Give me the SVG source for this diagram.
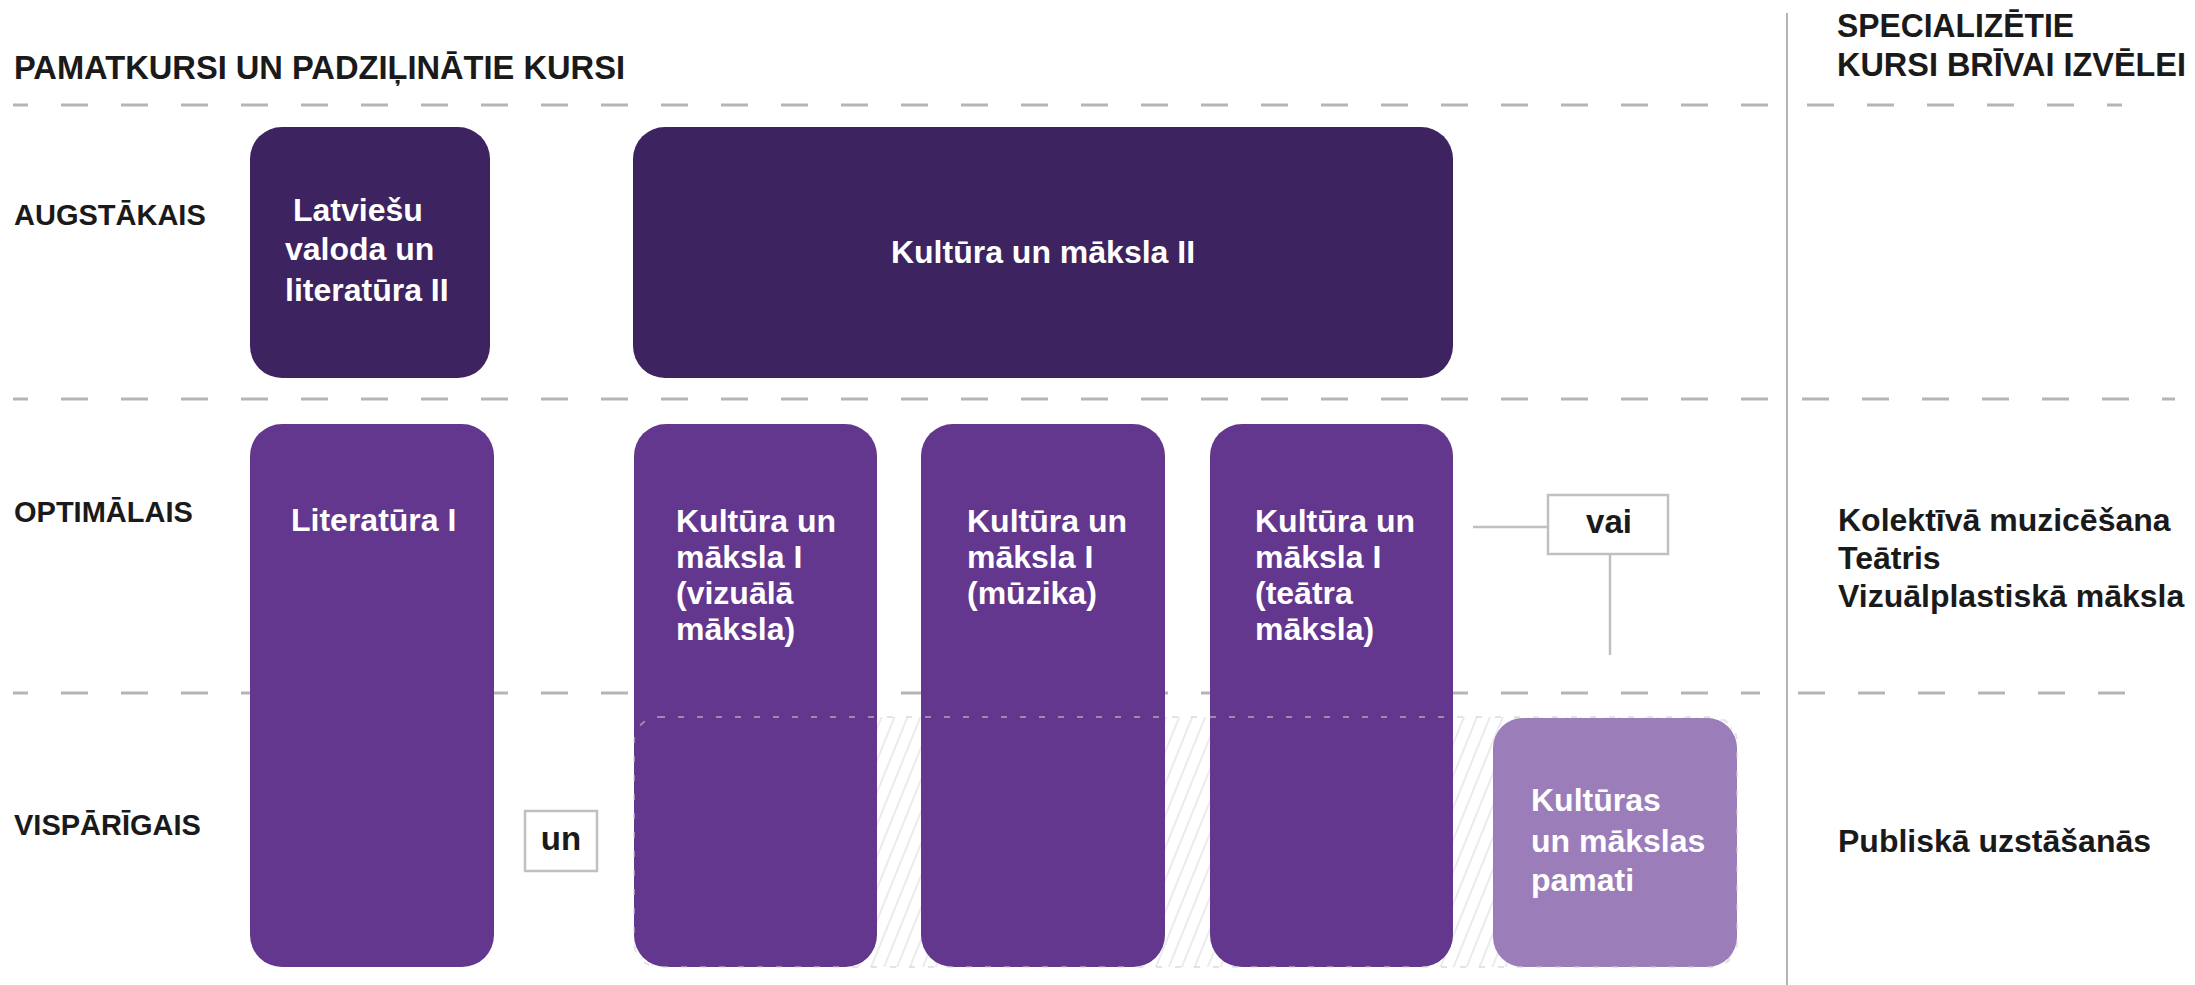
<svg xmlns="http://www.w3.org/2000/svg" width="2195" height="985" viewBox="0 0 2195 985">
<defs>
<style>
.hd{font-family:"Liberation Sans",Arial,sans-serif;font-weight:bold;font-size:33px;fill:#1a1a1a}
.lvl{font-family:"Liberation Sans",Arial,sans-serif;font-weight:bold;font-size:29px;fill:#1a1a1a}
.bx{font-family:"Liberation Sans",Arial,sans-serif;font-weight:bold;font-size:32px;fill:#ffffff}
.rt{font-family:"Liberation Sans",Arial,sans-serif;font-weight:bold;font-size:32px;fill:#1a1a1a}
.op{font-family:"Liberation Sans",Arial,sans-serif;font-weight:bold;font-size:33px;fill:#1a1a1a;text-anchor:middle}
.dash{stroke:#b5b5b5;stroke-width:3;stroke-dasharray:27 33;fill:none}
.dark{fill:#3d2360}
.mid{fill:#64378e}
.light{fill:#9b7db9}
.opbox{fill:#ffffff;stroke:#c0c0c0;stroke-width:2.5}
.conn{stroke:#c0c0c0;stroke-width:2.5;fill:none}
</style>
<pattern id="hatch" width="12" height="12" patternUnits="userSpaceOnUse" patternTransform="rotate(22)">
<line x1="6" y1="0" x2="6" y2="12" stroke="#ebebeb" stroke-width="2"/>
</pattern>
</defs>
<rect width="2195" height="985" fill="#ffffff"/>

<g id="grid">
<line class="dash" x1="13" y1="105" x2="1775" y2="105" stroke-dashoffset="12"/>
<line class="dash" x1="1807" y1="105" x2="2122" y2="105"/>
<line class="dash" x1="13" y1="399" x2="1772" y2="399" stroke-dashoffset="12"/>
<line class="dash" x1="1802" y1="399" x2="2175" y2="399"/>
<line class="dash" x1="13" y1="693" x2="1760" y2="693" stroke-dashoffset="12"/>
<line class="dash" x1="1798" y1="693" x2="2158" y2="693"/>
<line x1="1787" y1="13" x2="1787" y2="985" stroke="#b5b5b5" stroke-width="2"/>
</g>

<g id="headings">
<text class="hd" x="14" y="79" textLength="611" lengthAdjust="spacingAndGlyphs">PAMATKURSI UN PADZIĻINĀTIE KURSI</text>
<text class="hd" x="1837" y="37" textLength="237" lengthAdjust="spacingAndGlyphs">SPECIALIZĒTIE</text>
<text class="hd" x="1837" y="76" textLength="349" lengthAdjust="spacingAndGlyphs">KURSI BRĪVAI IZVĒLEI</text>
</g>

<g id="levels">
<text class="lvl" x="14" y="225">AUGSTĀKAIS</text>
<text class="lvl" x="14" y="522">OPTIMĀLAIS</text>
<text class="lvl" x="14" y="835">VISPĀRĪGAIS</text>
</g>

<g id="hatch-area">
<rect x="634" y="717" width="1103" height="250" rx="25" fill="url(#hatch)"/>
</g>

<g id="latviesu-valoda-2">
<rect class="dark" x="250" y="127" width="240" height="251" rx="32"/>
<text class="bx" x="293" y="221">Latviešu</text>
<text class="bx" x="285" y="260">valoda un</text>
<text class="bx" x="285" y="301">literatūra II</text>
</g>

<g id="kultura-maksla-2">
<rect class="dark" x="633" y="127" width="820" height="251" rx="32"/>
<text class="bx" x="1043" y="263" text-anchor="middle">Kultūra un māksla II</text>
</g>

<g id="literatura-1">
<rect class="mid" x="250" y="424" width="244" height="543" rx="32"/>
<text class="bx" x="291" y="531">Literatūra I</text>
</g>

<g id="kultura-vizuala">
<rect class="mid" x="634" y="424" width="243" height="543" rx="32"/>
<text class="bx" x="676" y="532">Kultūra un</text>
<text class="bx" x="676" y="568">māksla I</text>
<text class="bx" x="676" y="604">(vizuālā</text>
<text class="bx" x="676" y="640">māksla)</text>
</g>

<g id="kultura-muzika">
<rect class="mid" x="921" y="424" width="244" height="543" rx="32"/>
<text class="bx" x="967" y="532">Kultūra un</text>
<text class="bx" x="967" y="568">māksla I</text>
<text class="bx" x="967" y="604">(mūzika)</text>
</g>

<g id="kultura-teatra">
<rect class="mid" x="1210" y="424" width="243" height="543" rx="32"/>
<text class="bx" x="1255" y="532">Kultūra un</text>
<text class="bx" x="1255" y="568">māksla I</text>
<text class="bx" x="1255" y="604">(teātra</text>
<text class="bx" x="1255" y="640">māksla)</text>
</g>

<g id="kulturas-pamati">
<rect class="light" x="1493" y="718" width="244" height="249" rx="30"/>
<text class="bx" x="1531" y="811">Kultūras</text>
<text class="bx" x="1531" y="852">un mākslas</text>
<text class="bx" x="1531" y="891">pamati</text>
</g>

<g id="hatch-border">
<rect x="634" y="717" width="1103" height="250" rx="25" fill="none" stroke="rgba(205,205,205,0.55)" stroke-width="2" stroke-dasharray="6 13"/>
</g>

<g id="connectors">
<line class="conn" x1="1473" y1="527" x2="1548" y2="527"/>
<line class="conn" x1="1610" y1="554" x2="1610" y2="655"/>
</g>

<g id="op-un">
<rect class="opbox" x="525" y="811" width="72" height="60"/>
<text class="op" x="561" y="850">un</text>
</g>

<g id="op-vai">
<rect class="opbox" x="1548" y="495" width="120" height="59"/>
<text class="op" x="1609" y="533">vai</text>
</g>

<g id="specialized">
<text class="rt" x="1838" y="531">Kolektīvā muzicēšana</text>
<text class="rt" x="1838" y="569">Teātris</text>
<text class="rt" x="1838" y="607">Vizuālplastiskā māksla</text>
<text class="rt" x="1838" y="852">Publiskā uzstāšanās</text>
</g>
</svg>
